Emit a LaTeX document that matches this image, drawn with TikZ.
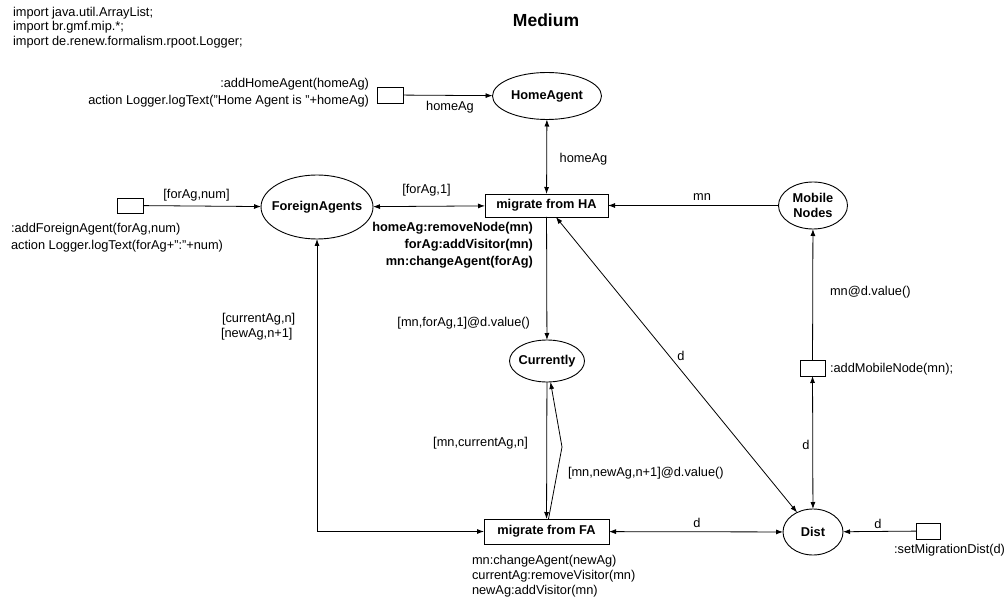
\documentclass[tikz,border=0pt]{standalone}
\usepackage{fontspec}
\setmainfont{Liberation Sans}
\usetikzlibrary{shapes.geometric,arrows.meta}

\begin{document}
\begin{tikzpicture}[x=1pt,y=-1pt,
  every node/.style={inner sep=0pt, outer sep=0pt, font=\fontsize{12.8}{15}\selectfont},
  pname/.style={font=\fontsize{12.8}{15}\selectfont\bfseries, align=center},
  place/.style={draw, ellipse, line width=0.9pt},
  trans/.style={draw, rectangle, line width=0.9pt, font=\fontsize{12.8}{15}\selectfont\bfseries},
  stub/.style={draw, rectangle, line width=0.9pt, minimum width=25pt, minimum height=16pt},
  tip/.tip={Latex[length=7pt,width=5pt]},
  arc/.style={line width=0.8pt, -tip},
  biarc/.style={line width=0.8pt, tip-tip},
]
\useasboundingbox (0,0) rectangle (1008,601);

% declarations and title
\node[anchor=west, align=left, font=\fontsize{12.8}{14.2}\selectfont] (imports) at (13,27.5)
  {import java.util.ArrayList;\\import br.gmf.mip.*;\\import de.renew.formalism.rpoot.Logger;};
\node[font=\fontsize{17.5}{20}\selectfont\bfseries] (title) at (546,20) {Medium};

% places
\node[place, minimum width=109pt, minimum height=47pt, label={[pname]center:HomeAgent}] (home) at (547,96) {};
\node[place, minimum width=112pt, minimum height=64pt, label={[pname]center:ForeignAgents}] (foreign) at (317,207) {};
\node[place, minimum width=69pt, minimum height=47pt, label={[pname]center:Mobile\\Nodes}] (mobile) at (813,205.5) {};
\node[place, minimum width=75pt, minimum height=42pt, label={[pname]center:Currently}] (curr) at (547,361) {};
\node[place, minimum width=60pt, minimum height=46pt, label={[pname]center:Dist}] (dist) at (813,532) {};

% transitions
\node[trans, minimum width=123pt, minimum height=23pt] (mha) at (546.5,205.5) {migrate from HA};
\node[trans, minimum width=125pt, minimum height=25pt] (mfa) at (546.5,531.5) {migrate from FA};

% channel transitions
\node[stub, minimum width=26pt] (thome) at (390,95) {};
\node[stub, minimum width=26pt, minimum height=15pt] (tforeign) at (130,205.5) {};
\node[stub] (tmobile) at (812.5,368) {};
\node[stub, minimum width=24pt] (tdist) at (928,531) {};

% transition inscriptions
\node[anchor=east, align=right, font=\fontsize{12.8}{17}\selectfont] (homeinscr) at (369,92.5)
  {:addHomeAgent(homeAg)\\action Logger.logText("Home Agent is "+homeAg)};
\node[anchor=west, align=left, font=\fontsize{12.8}{17}\selectfont] (foreigninscr) at (11,237.5)
  {:addForeignAgent(forAg,num)\\action Logger.logText(forAg+":"+num)};
\node[anchor=east, align=right, font=\fontsize{12.8}{17}\selectfont\bfseries] (mhainscr) at (533,245)
  {homeAg:removeNode(mn)\\forAg:addVisitor(mn)\\mn:changeAgent(forAg)};
\node[anchor=west, align=left, font=\fontsize{12.8}{15}\selectfont] (mfainscr) at (472,576)
  {mn:changeAgent(newAg)\\currentAg:removeVisitor(mn)\\newAg:addVisitor(mn)};
\node[anchor=west] (mobileinscr) at (830,369) {:addMobileNode(mn);};
\node[anchor=east] (distinscr) at (1005,550) {:setMigrationDist(d)};

% arcs
\coordinate (bend) at (562,447);
\draw[arc] (thome) -- (home);
\draw[biarc] (home) -- (mha);
\draw[arc] (tforeign) -- (foreign);
\draw[biarc] (foreign) -- (mha);
\draw[arc] (mobile) -- (mha);
\draw[arc] (mha) -- (curr);
\draw[arc] (curr) -- (mfa);
\draw[arc] ([xshift=2pt]mfa.north) -- (bend) -- ([xshift=3.5pt]curr.south);
\draw[biarc] (foreign) |- (mfa);
\draw[biarc] (mha) -- (dist);
\draw[biarc] (mfa) -- (dist);
\draw[arc] (tdist) -- (dist);
\draw[biarc] (dist) -- (tmobile);
\draw[arc] (tmobile) -- (mobile);

% arc inscriptions
\node (l1) at (450,107) {homeAg};
\node (l2) at (583.5,159) {homeAg};
\node (l3) at (426.5,190.5) {[forAg,1]};
\node (l4) at (196.5,195) {[forAg,num]};
\node (l5) at (702,197) {mn};
\node[anchor=east] (l6) at (530,323) {[mn,forAg,1]@d.value()};
\node (l7) at (480.5,443) {[mn,currentAg,n]};
\node[anchor=west] (l8) at (568,473) {[mn,newAg,n+1]@d.value()};
\node (l9) at (681,356) {d};
\node[anchor=west] (l10) at (830,292) {mn@d.value()};
\node (l11) at (806,445) {d};
\node (l12) at (697,523) {d};
\node (l13) at (878,524) {d};
\node[anchor=west] (l14) at (222,319) {[currentAg,n]};
\node[anchor=west] (l15) at (221,334) {[newAg,n+1]};
\end{tikzpicture}
\end{document}
